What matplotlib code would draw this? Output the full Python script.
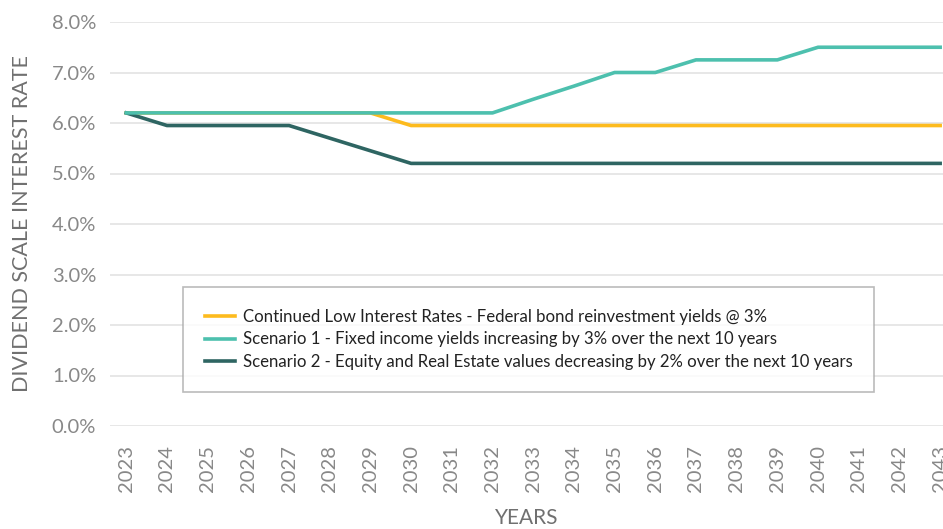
import matplotlib.pyplot as plt
from matplotlib.ticker import PercentFormatter

plt.rcParams["font.family"] = ["Lato", "DejaVu Sans"]

years = list(range(2023, 2044))

# dividend scale interest rate (%) per year
low_rates = [6.2, 6.2, 6.2, 6.2, 6.2, 6.2, 6.2, 5.95, 5.95, 5.95, 5.95,
             5.95, 5.95, 5.95, 5.95, 5.95, 5.95, 5.95, 5.95, 5.95, 5.95]
scenario_1 = [6.2, 6.2, 6.2, 6.2, 6.2, 6.2, 6.2, 6.2, 6.2, 6.2, 6.47,
              6.73, 7.0, 7.0, 7.25, 7.25, 7.25, 7.5, 7.5, 7.5, 7.5]
scenario_2 = [6.2, 5.95, 5.95, 5.95, 5.95, 5.7, 5.45, 5.2, 5.2, 5.2, 5.2,
              5.2, 5.2, 5.2, 5.2, 5.2, 5.2, 5.2, 5.2, 5.2, 5.2]

labels = [
    "Continued Low Interest Rates - Federal bond reinvestment yields @ 3%",
    "Scenario 1 - Fixed income yields increasing by 3% over the next 10 years",
    "Scenario 2 - Equity and Real Estate values decreasing by 2% over the next 10 years",
]
colors = ["#FDBB1E", "#4DC0AE", "#2E6562"]

fig = plt.figure(figsize=(9.43, 5.29), dpi=100)
ax = fig.add_axes([110 / 943, 103 / 529, 833 / 943, 404 / 529])

ax.plot(years, low_rates, color=colors[0], lw=2.6, label=labels[0], zorder=3)
ax.plot(years, scenario_1, color=colors[1], lw=2.6, label=labels[1], zorder=4)
ax.plot(years, scenario_2, color=colors[2], lw=2.6, label=labels[2], zorder=3)

ax.set_xlim(2022.6, 2043.07)
ax.set_ylim(0, 8)
ax.set_yticks(range(0, 9))
ax.yaxis.set_major_formatter(PercentFormatter(decimals=1))
ax.set_xticks(years)
ax.set_xticklabels([str(y) for y in years], rotation=90)

ax.grid(axis="y", color="#e3e3e3", lw=1.2)
ax.set_axisbelow(True)
for s in ax.spines.values():
    s.set_visible(False)
ax.tick_params(axis="both", length=0, colors="#888888", labelsize=14.5, pad=10)
ax.tick_params(axis="x", pad=14)

ax.set_ylabel("DIVIDEND SCALE INTEREST RATE", fontsize=15.5, color="#707070", labelpad=14)
ax.set_xlabel("YEARS", fontsize=15, color="#707070", labelpad=11)

leg = ax.legend(loc="lower left", bbox_to_anchor=(0.0876, 0.084, 0.83, 0.258),
                mode="expand", borderaxespad=0, fontsize=12.1, frameon=True,
                fancybox=False, edgecolor="#aaaaaa", borderpad=1.3,
                handlelength=1.8, handletextpad=0.45, labelspacing=0.4)
leg.get_frame().set_linewidth(1.2)
for t in leg.get_texts():
    t.set_color("#222222")

plt.savefig("out.png", dpi=100)
